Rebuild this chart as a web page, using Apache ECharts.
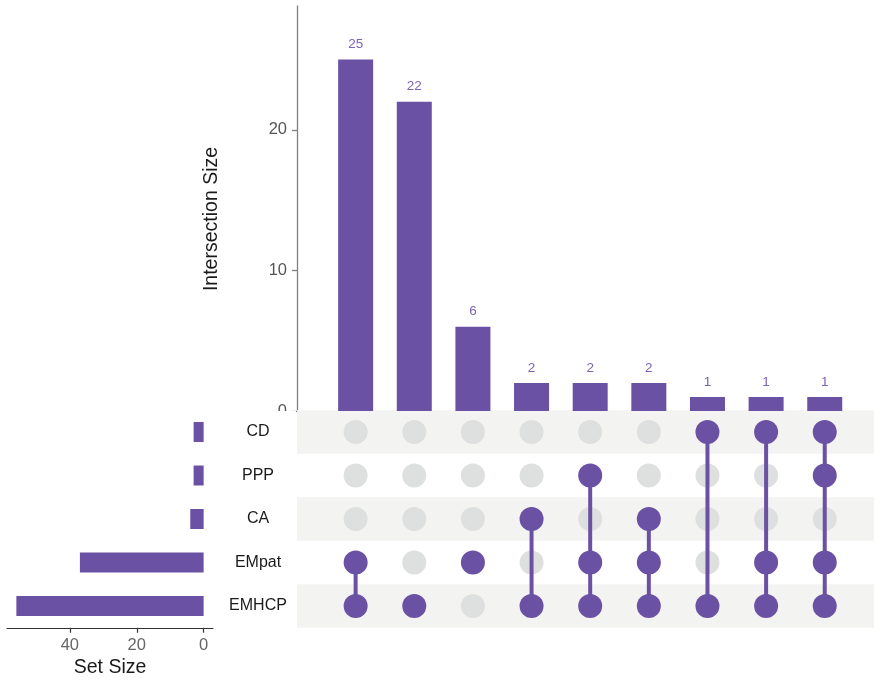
<!DOCTYPE html>
<html>
<head>
<meta charset="utf-8">
<script src="https://cdn.jsdelivr.net/npm/echarts@6/dist/echarts.min.js"></script>
<style>
  html, body { margin: 0; padding: 0; background: #ffffff; }
  #chart { width: 874px; height: 680px; }
</style>
</head>
<body>
<div id="chart"></div>
<script>
// Sets, listed top to bottom in the matrix
const sets = ['CD', 'PPP', 'CA', 'EMpat', 'EMHCP'];
// Total size of each set
const setSizes = [3, 3, 4, 37, 56];
// Intersection sizes, ordered by decreasing frequency
const intersectionSizes = [25, 22, 6, 2, 2, 2, 1, 1, 1];
// Which sets take part in each intersection
const intersectionMembers = [
  ['EMpat', 'EMHCP'],
  ['EMHCP'],
  ['EMpat'],
  ['CA', 'EMHCP'],
  ['PPP', 'EMpat', 'EMHCP'],
  ['CA', 'EMpat', 'EMHCP'],
  ['CD', 'EMHCP'],
  ['CD', 'EMpat', 'EMHCP'],
  ['CD', 'PPP', 'EMpat', 'EMHCP']
];
const intersectionTicks = [0, 10, 20];
const setSizeTicks = [0, 20, 40];

const PURPLE = '#6a51a3';
const FONT = "'Liberation Sans', Arial, Helvetica, sans-serif";

// Column positions of the intersections (1-based)
const colX = intersectionSizes.map((_, i) => i + 1);

const barData = intersectionSizes.map((v, i) => [colX[i], v]);

const activeDots = [];
const inactiveDots = [];
const connectors = [];
intersectionMembers.forEach((members, i) => {
  const rows = [];
  sets.forEach((s, r) => {
    if (members.includes(s)) { activeDots.push([colX[i], r]); rows.push(r); }
    else inactiveDots.push([colX[i], r]);
  });
  connectors.push([colX[i], Math.min(...rows), Math.max(...rows)]);
});

// Alternate shaded rows of the matrix
const stripeRows = sets.map((_, r) => r).filter(r => r % 2 === 0);

const X_MIN = 0, X_MAX = 9.84;
const MATRIX_TOP = 410.25, MATRIX_H = 217.5;

const chart = echarts.init(document.getElementById('chart'), null, { renderer: 'canvas' });

chart.setOption({
  animation: false,
  backgroundColor: '#ffffff',
  textStyle: { fontFamily: FONT },
  graphic: [{
    type: 'rect',
    z: 1,
    shape: { x: 0, y: 411, width: 296, height: 269 },
    style: { fill: '#ffffff' }
  }],
  grid: [
    { left: 297, width: 577, top: 6, height: 405 },                  // intersection bars
    { left: 297, width: 577, top: MATRIX_TOP, height: MATRIX_H },    // matrix
    { left: 7, width: 206, top: MATRIX_TOP, height: MATRIX_H }       // set sizes
  ],
  xAxis: [
    { gridIndex: 0, type: 'value', min: X_MIN, max: X_MAX, show: false },
    { gridIndex: 1, type: 'value', min: X_MIN, max: X_MAX, show: false },
    {
      gridIndex: 2, type: 'value', inverse: true, min: -2.8, max: 58.8, z: 5,
      position: 'bottom',
      axisLine: { show: true, lineStyle: { color: '#333333', width: 1.2 } },
      axisTick: { show: true, length: 5, customValues: setSizeTicks, lineStyle: { color: '#333333', width: 1.2 } },
      axisLabel: { customValues: setSizeTicks, fontSize: 16.5, color: '#666666', margin: 9, fontFamily: FONT },
      splitLine: { show: false },
      name: 'Set Size', nameLocation: 'middle', nameGap: 30,
      nameTextStyle: { fontSize: 19.5, color: '#1a1a1a', fontFamily: FONT }
    }
  ],
  yAxis: [
    {
      gridIndex: 0, type: 'value', min: 0, max: 28.8,
      axisLine: { show: true, lineStyle: { color: '#808080', width: 1.3 } },
      axisTick: { show: true, length: 5, customValues: intersectionTicks, lineStyle: { color: '#808080', width: 1.3 } },
      axisLabel: { customValues: intersectionTicks, fontSize: 16.5, color: '#555555', margin: 10, fontFamily: FONT },
      splitLine: { show: false },
      name: 'Intersection Size', nameLocation: 'middle', nameGap: 75,
      nameTextStyle: { fontSize: 19.5, color: '#1a1a1a', fontFamily: FONT, padding: [0, 21, 0, 0] }
    },
    {
      gridIndex: 1, type: 'category', data: sets, inverse: true, z: 5,
      axisLine: { show: false }, axisTick: { show: false },
      axisLabel: { align: 'center', margin: 39, fontSize: 16, color: '#1a1a1a', fontFamily: FONT },
      splitLine: { show: false }
    },
    {
      gridIndex: 2, type: 'category', data: sets, inverse: true,
      axisLine: { show: false }, axisTick: { show: false }, axisLabel: { show: false }
    }
  ],
  series: [
    {
      type: 'bar', xAxisIndex: 0, yAxisIndex: 0, data: barData, barWidth: 35,
      itemStyle: { color: PURPLE },
      label: { show: true, position: 'top', distance: 8, fontSize: 13.5, color: '#7d63b8', fontFamily: FONT,
               formatter: p => p.value[1] }
    },
    {
      type: 'custom', xAxisIndex: 1, yAxisIndex: 1, z: 1, data: stripeRows,
      renderItem: (params, api) => {
        const cs = params.coordSys;
        const yc = api.coord([X_MIN, api.value(0)])[1];
        const h = api.size([0, 1])[1];
        return { type: 'rect', shape: { x: cs.x, y: yc - h / 2, width: cs.width, height: h },
                 style: { fill: '#f3f3f2' } };
      },
      silent: true
    },
    {
      type: 'scatter', xAxisIndex: 1, yAxisIndex: 1, z: 3, data: inactiveDots,
      symbolSize: 24, itemStyle: { color: '#dedfdf', opacity: 1 }, silent: true
    },
    {
      type: 'custom', xAxisIndex: 1, yAxisIndex: 1, z: 4, data: connectors,
      renderItem: (params, api) => {
        const p1 = api.coord([api.value(0), api.value(1)]);
        const p2 = api.coord([api.value(0), api.value(2)]);
        return { type: 'line', shape: { x1: p1[0], y1: p1[1], x2: p2[0], y2: p2[1] },
                 style: { stroke: PURPLE, lineWidth: 4 } };
      },
      silent: true
    },
    {
      type: 'scatter', xAxisIndex: 1, yAxisIndex: 1, z: 5, data: activeDots,
      symbolSize: 24, itemStyle: { color: PURPLE, opacity: 1 }, silent: true
    },
    {
      type: 'bar', xAxisIndex: 2, yAxisIndex: 2, data: setSizes, barWidth: 20,
      itemStyle: { color: PURPLE }
    }
  ]
});
</script>
</body>
</html>
